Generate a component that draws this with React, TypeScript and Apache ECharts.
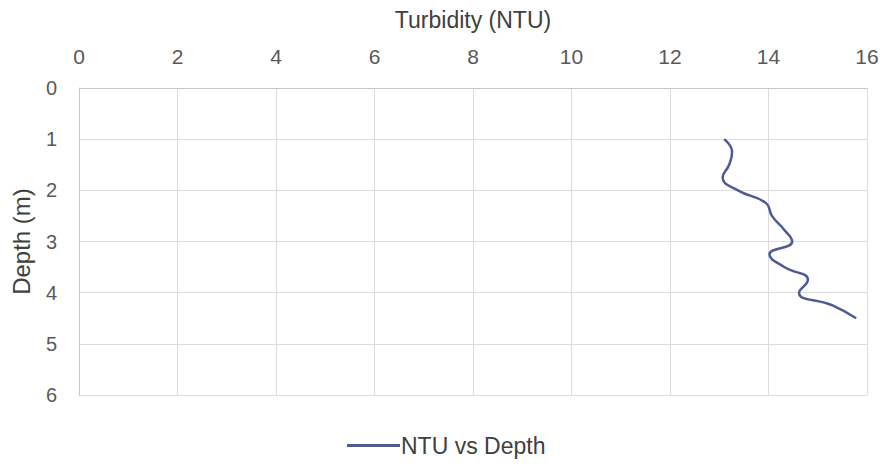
import React, { useEffect, useRef } from "react";
import * as echarts from "echarts";

const depths = [1.0, 1.25, 1.5, 1.75, 2.0, 2.25, 2.5, 2.75, 3.0, 3.25, 3.5, 3.75, 4.0, 4.25, 4.5];
const turbidity = [13.1, 13.26, 13.2, 13.07, 13.38, 13.95, 14.07, 14.3, 14.48, 14.02, 14.32, 14.8, 14.62, 15.3, 15.78];
const xTicks = { min: 0, max: 16, interval: 2 };
const yTicks = { min: 0, max: 6, interval: 1 };
const seriesName = "NTU vs Depth";
const xName = "Turbidity (NTU)";
const yName = "Depth (m)";

export default function App() {
  const ref = useRef<HTMLDivElement>(null);
  useEffect(() => {
    if (!ref.current) return;
    const chart = echarts.init(ref.current, null, { renderer: "svg" });
    const font = "Liberation Sans, Arial, sans-serif";
    chart.setOption({
      animation: false,
      backgroundColor: "#ffffff",
      grid: { left: 79, right: 17, top: 88, bottom: 69, containLabel: false },
      legend: {
        bottom: 2,
        left: 342,
        itemWidth: 53,
        itemHeight: 3,
        icon: "rect",
        itemGap: 4,
        textStyle: { fontFamily: font, fontSize: 23, color: "#404040", padding: [0, 0, 0, -4] },
        data: [seriesName],
      },
      xAxis: {
        type: "value",
        position: "top",
        min: xTicks.min,
        max: xTicks.max,
        interval: xTicks.interval,
        name: xName,
        nameLocation: "middle",
        nameGap: 57,
        nameTextStyle: { fontFamily: font, fontSize: 23, color: "#404040" },
        axisLine: { show: true, lineStyle: { color: "#c8c8c8", width: 1 } },
        axisTick: { show: false },
        axisLabel: { fontFamily: font, fontSize: 21, color: "#595959", margin: 21 },
        splitLine: { show: true, lineStyle: { color: "#dcdcdc", width: 1 } },
      },
      yAxis: {
        type: "value",
        inverse: true,
        min: yTicks.min,
        max: yTicks.max,
        interval: yTicks.interval,
        name: yName,
        nameLocation: "middle",
        nameGap: 46,
        nameRotate: 90,
        nameTextStyle: { fontFamily: font, fontSize: 24, color: "#404040" },
        axisLine: { show: true, lineStyle: { color: "#c8c8c8", width: 1 } },
        axisTick: { show: false },
        axisLabel: { fontFamily: font, fontSize: 20, color: "#595959", margin: 22 },
        splitLine: { show: true, lineStyle: { color: "#dcdcdc", width: 1 } },
      },
      series: [
        {
          name: seriesName,
          type: "line",
          smooth: 0.5,
          showSymbol: false,
          symbol: "none",
          color: "#4d5a94",
          lineStyle: { color: "#4d5a94", width: 2.5 },
          data: depths.map((d, i) => [turbidity[i], d]),
        },
      ],
    });
    return () => chart.dispose();
  }, []);
  return <div ref={ref} style={{ width: 884, height: 464, position: "absolute", left: 0, top: 0 }} />;
}
